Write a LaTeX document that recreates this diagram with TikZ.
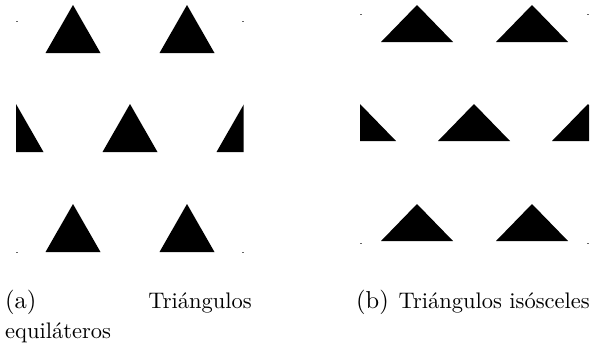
\documentclass[tikz,border=0pt]{standalone}
\newcommand{\captxt}[1]{\scalebox{2.25}{\fontsize{10}{12}\selectfont #1}}
\newcommand{\caplbl}[1]{\scalebox{2.45}{\fontsize{10}{12}\selectfont #1}}
\begin{document}
\begin{tikzpicture}[x=1pt,y=-1pt,
  tri/.style={fill=black},
  tickmark/.style={draw=black!60, line width=0.9pt},
  captext/.style={inner sep=0pt, anchor=base west}]
\useasboundingbox (0,0) rectangle (592,346);
% (a) equilateral triangles
\begin{scope}
\clip (16,0) rectangle (243.5,300);
\foreach \x/\y in {73/5,187/5,16/104,130/104,244/104,73/204,187/204}
  \fill[tri] (\x,\y) -- ++(27.5,48) -- ++(-55,0) -- cycle;
\end{scope}
\foreach \x/\y in {16/21,242/21,16/252,242/252}
  \draw[tickmark] (\x,\y) -- ++(2,0);
% (b) isosceles triangles
\begin{scope}
\clip (360,0) rectangle (589,300);
\foreach \x/\y in {417/5,532/5,360/104,474/104,588/104,417/204,532/204}
  \fill[tri] (\x,\y) -- ++(36,37) -- ++(-72,0) -- cycle;
\end{scope}
\foreach \x/\y in {360/14,587/14,360/243,587/243}
  \draw[tickmark] (\x,\y) -- ++(2,0);
% captions
\node[captext] (la) at (5,308) {\caplbl{(a)}};
\node[captext, anchor=base east] (ta) at (252,308) {\captxt{Triángulos}};
\node[captext] (ea) at (5,338) {\captxt{equiláteros}};
\node[captext] (lb) at (356,308) {\caplbl{(b)}};
\node[captext, anchor=base east] (tb) at (590,308) {\captxt{Triángulos isósceles}};
\end{tikzpicture}
\end{document}
